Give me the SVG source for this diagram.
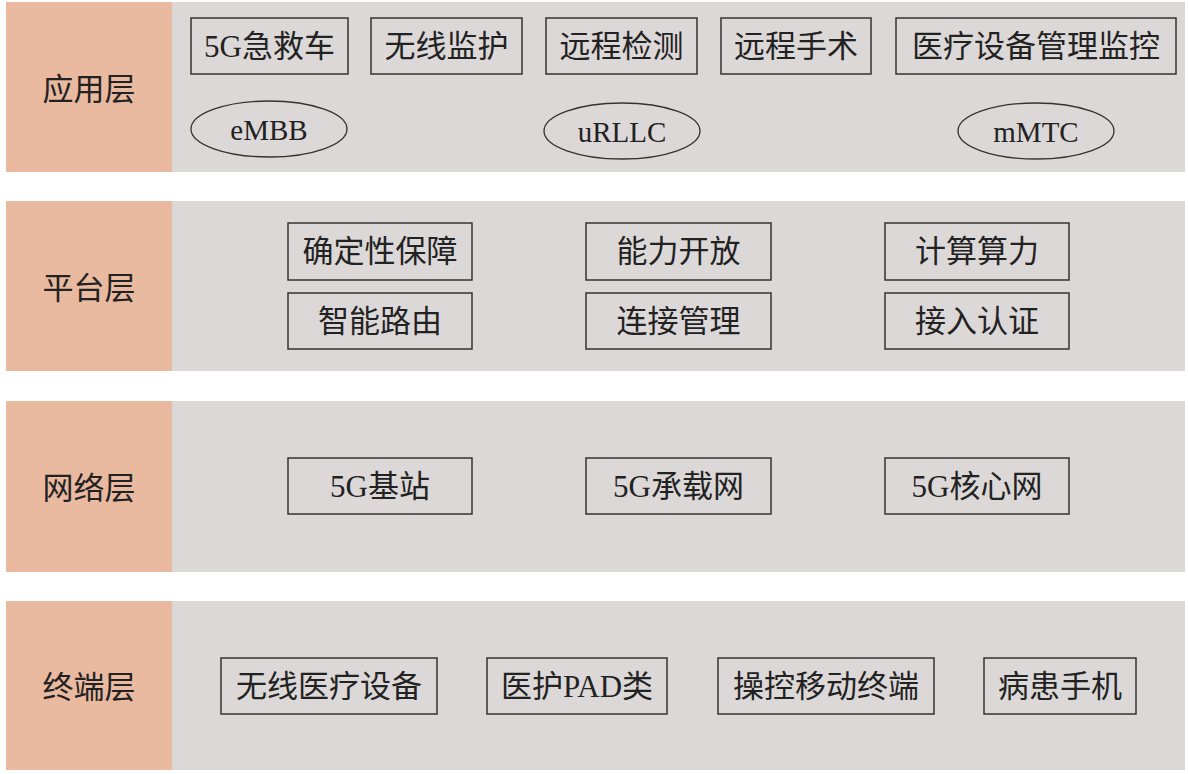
<svg xmlns="http://www.w3.org/2000/svg" width="1188" height="774" viewBox="0 0 1188 774">
<style>
.band{fill:#dcd8d8}
.lab{fill:#e9b9a0}
.box{fill:none;stroke:#333;stroke-width:1.5}
.ell{fill:none;stroke:#333;stroke-width:1.3}
text{font-family:"Liberation Serif","Noto Sans CJK SC",serif;font-size:31px;fill:#222;text-anchor:middle;dominant-baseline:central}
.lt{font-size:29px}
</style>
<rect width="1188" height="774" fill="#ffffff"/>
<g id="layer-app">
<rect class="band" x="6" y="2" width="1179" height="170"/>
<rect class="lab" x="6" y="2" width="166" height="170"/>
<text x="89" y="89">应用层</text>
</g>
<g id="layer-platform">
<rect class="band" x="6" y="201" width="1179" height="170"/>
<rect class="lab" x="6" y="201" width="166" height="170"/>
<text x="89" y="288">平台层</text>
</g>
<g id="layer-network">
<rect class="band" x="6" y="401" width="1179" height="171"/>
<rect class="lab" x="6" y="401" width="166" height="171"/>
<text x="89" y="488">网络层</text>
</g>
<g id="layer-terminal">
<rect class="band" x="6" y="601" width="1179" height="169"/>
<rect class="lab" x="6" y="601" width="166" height="169"/>
<text x="89" y="687">终端层</text>
</g>
<g id="n-ambulance"><rect class="box" x="191" y="18" width="157" height="56"/><text x="269.5" y="46">5G急救车</text></g>
<g id="n-wireless-monitor"><rect class="box" x="371" y="18" width="151" height="56"/><text x="446.5" y="46">无线监护</text></g>
<g id="n-remote-detect"><rect class="box" x="546" y="18" width="151" height="56"/><text x="621.5" y="46">远程检测</text></g>
<g id="n-remote-surgery"><rect class="box" x="721" y="18" width="150" height="56"/><text x="796" y="46">远程手术</text></g>
<g id="n-device-mgmt"><rect class="box" x="896" y="18" width="280" height="56"/><text x="1036" y="46">医疗设备管理监控</text></g>
<g id="n-embb"><ellipse class="ell" cx="269" cy="129" rx="78" ry="28"/><text class="lt" x="269" y="130">eMBB</text></g>
<g id="n-urllc"><ellipse class="ell" cx="622" cy="131" rx="78" ry="28"/><text class="lt" x="622" y="132">uRLLC</text></g>
<g id="n-mmtc"><ellipse class="ell" cx="1036" cy="131" rx="78" ry="28"/><text class="lt" x="1036" y="132">mMTC</text></g>
<g id="n-determinism"><rect class="box" x="288" y="223" width="184" height="57"/><text x="380" y="251">确定性保障</text></g>
<g id="n-capability"><rect class="box" x="586" y="223" width="185" height="57"/><text x="678.5" y="251">能力开放</text></g>
<g id="n-compute"><rect class="box" x="885" y="223" width="184" height="57"/><text x="977" y="251">计算算力</text></g>
<g id="n-routing"><rect class="box" x="288" y="293" width="184" height="56"/><text x="380" y="321">智能路由</text></g>
<g id="n-connection"><rect class="box" x="586" y="293" width="185" height="56"/><text x="678.5" y="321">连接管理</text></g>
<g id="n-auth"><rect class="box" x="885" y="293" width="184" height="56"/><text x="977" y="321">接入认证</text></g>
<g id="n-basestation"><rect class="box" x="288" y="458" width="184" height="56"/><text x="380" y="486">5G基站</text></g>
<g id="n-bearer"><rect class="box" x="586" y="458" width="185" height="56"/><text x="678.5" y="486">5G承载网</text></g>
<g id="n-core"><rect class="box" x="885" y="458" width="184" height="56"/><text x="977" y="486">5G核心网</text></g>
<g id="n-wireless-device"><rect class="box" x="221" y="658" width="216" height="56"/><text x="329" y="686">无线医疗设备</text></g>
<g id="n-pad"><rect class="box" x="487" y="658" width="180" height="56"/><text x="577" y="686">医护PAD类</text></g>
<g id="n-control-terminal"><rect class="box" x="718" y="658" width="216" height="56"/><text x="826" y="686">操控移动终端</text></g>
<g id="n-phone"><rect class="box" x="984" y="658" width="152" height="56"/><text x="1060" y="686">病患手机</text></g>
<g id="connectors"></g>
</svg>
